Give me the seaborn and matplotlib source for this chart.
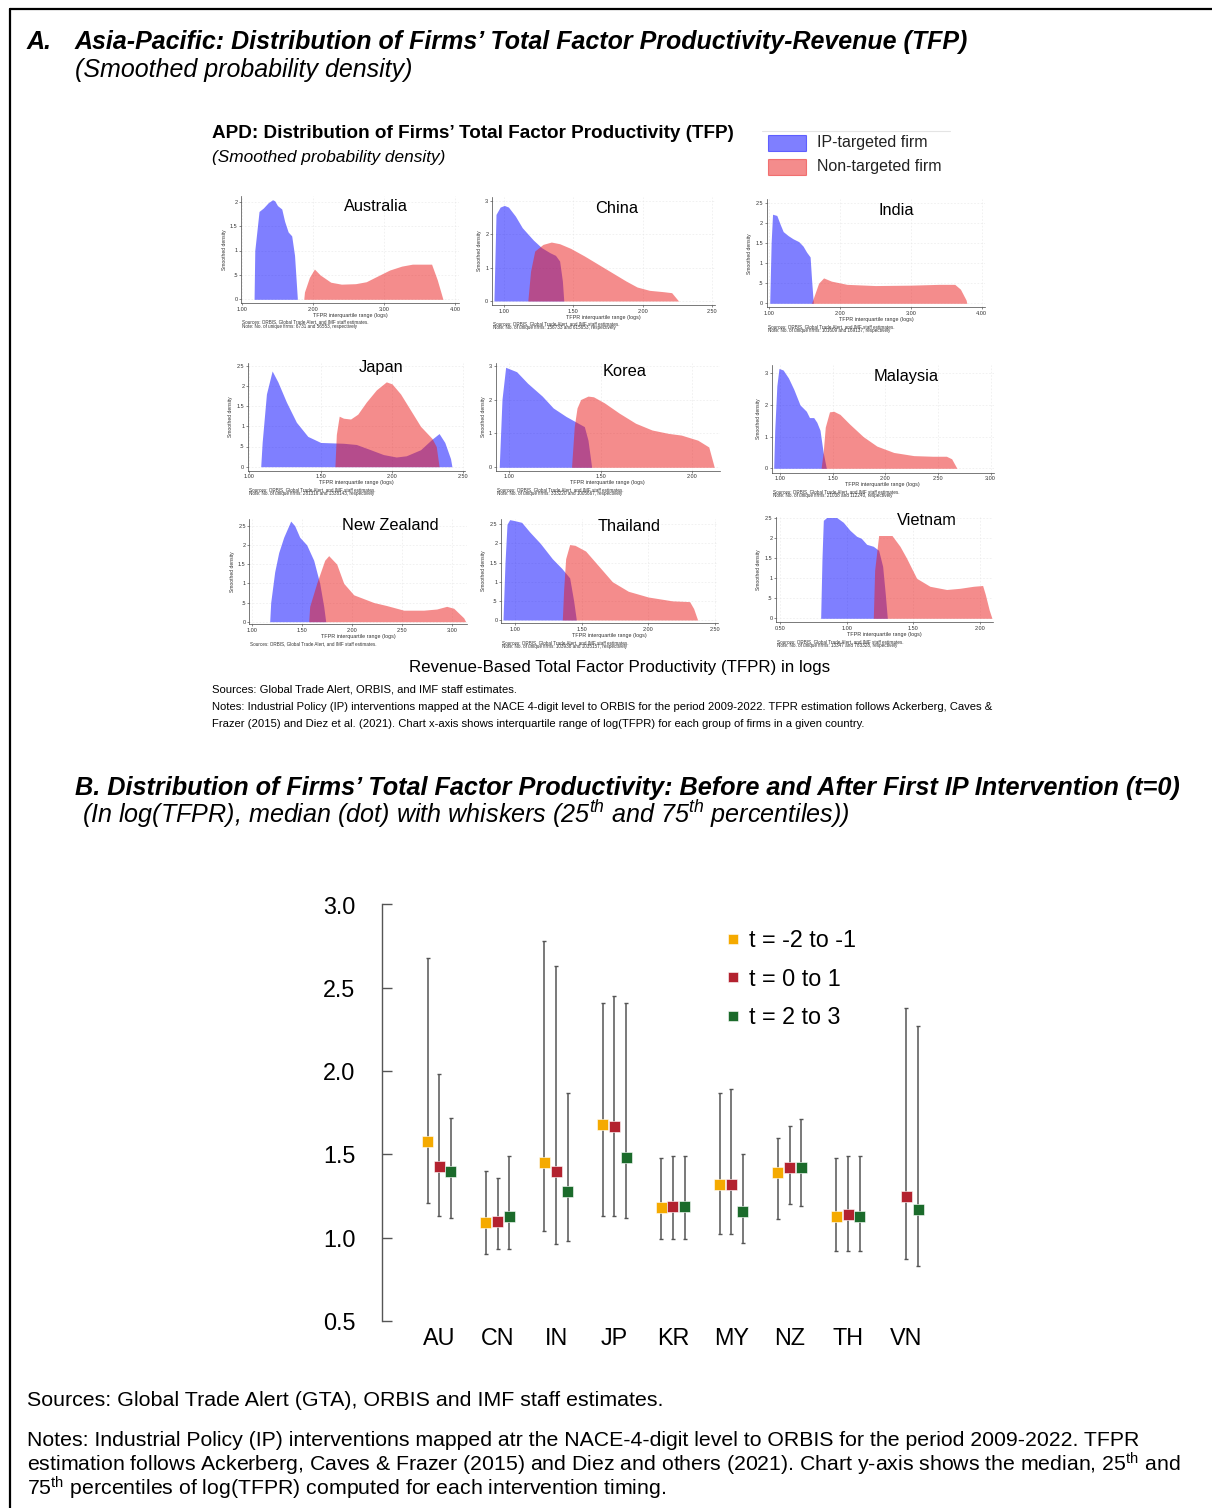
import numpy as np
import pandas as pd
import matplotlib
matplotlib.use("Agg")
import matplotlib.pyplot as plt
import seaborn as sns
from matplotlib import font_manager
from matplotlib.patches import Rectangle
from matplotlib.lines import Line2D

# ======================= DATA : Panel A (smoothed densities) =======================
countries_a = ["Australia", "China", "India", "Japan", "Korea", "Malaysia",
               "New Zealand", "Thailand", "Vietnam"]

au_ip_x = [1.17, 1.18, 1.24, 1.30, 1.37, 1.43, 1.46, 1.50, 1.56, 1.60, 1.65, 1.70, 1.74, 1.78]
au_ip_y = [0, 1.0, 1.8, 1.87, 1.98, 2.04, 2.02, 1.92, 1.85, 1.6, 1.38, 1.3, 0.9, 0]
au_non_x = [1.87, 1.88, 1.95, 2.02, 2.10, 2.25, 2.40, 2.60, 2.75, 2.90, 3.08, 3.25, 3.40, 3.67, 3.75, 3.83]
au_non_y = [0, 0.15, 0.45, 0.62, 0.5, 0.35, 0.31, 0.32, 0.36, 0.47, 0.6, 0.68, 0.72, 0.72, 0.4, 0]

cn_ip_x = [0.925, 0.94, 0.97, 1.00, 1.03, 1.08, 1.13, 1.21, 1.27, 1.33, 1.37, 1.40, 1.42, 1.43]
cn_ip_y = [0, 2.6, 2.82, 2.87, 2.82, 2.55, 2.2, 1.83, 1.6, 1.45, 1.37, 1.2, 0.6, 0]
cn_non_x = [1.17, 1.19, 1.22, 1.28, 1.34, 1.40, 1.48, 1.58, 1.68, 1.78, 1.88, 1.96, 2.05, 2.15, 2.21, 2.26]
cn_non_y = [0, 0.9, 1.5, 1.7, 1.77, 1.72, 1.58, 1.35, 1.1, 0.85, 0.6, 0.42, 0.32, 0.28, 0.25, 0]

in_ip_x = [1.01, 1.03, 1.05, 1.11, 1.16, 1.20, 1.27, 1.34, 1.42, 1.48, 1.53, 1.58, 1.60, 1.625]
in_ip_y = [0, 1.5, 2.21, 2.18, 1.95, 1.78, 1.68, 1.6, 1.53, 1.42, 1.27, 1.15, 0.6, 0]
in_non_x = [1.60, 1.63, 1.70, 1.77, 1.88, 2.10, 2.50, 3.00, 3.40, 3.62, 3.70, 3.78, 3.79]
in_non_y = [0, 0.15, 0.5, 0.63, 0.55, 0.47, 0.44, 0.45, 0.47, 0.47, 0.35, 0.08, 0]

jp_ip_x = [1.08, 1.09, 1.12, 1.16, 1.20, 1.26, 1.33, 1.41, 1.50, 1.66, 1.75, 1.85, 1.94, 2.03,
           2.10, 2.20, 2.28, 2.33, 2.37, 2.41, 2.42]
jp_ip_y = [0, 0.6, 1.8, 2.37, 2.1, 1.6, 1.1, 0.75, 0.6, 0.58, 0.55, 0.42, 0.3, 0.24,
           0.27, 0.42, 0.68, 0.82, 0.6, 0.2, 0]
jp_non_x = [1.60, 1.61, 1.63, 1.66, 1.71, 1.76, 1.82, 1.89, 1.96, 2.00, 2.06, 2.13, 2.20, 2.28, 2.31, 2.33]
jp_non_y = [0, 0.8, 1.25, 1.2, 1.18, 1.3, 1.6, 1.9, 2.1, 2.05, 1.8, 1.4, 1.0, 0.7, 0.5, 0]

kr_ip_x = [0.945, 0.96, 0.98, 1.04, 1.10, 1.18, 1.24, 1.31, 1.36, 1.41, 1.43, 1.45]
kr_ip_y = [0, 2.0, 2.95, 2.82, 2.48, 2.1, 1.75, 1.5, 1.35, 1.2, 0.8, 0]
kr_non_x = [1.34, 1.355, 1.37, 1.39, 1.43, 1.46, 1.52, 1.60, 1.69, 1.78, 1.87, 1.94, 2.03, 2.09, 2.12]
kr_non_y = [0, 1.2, 1.75, 2.0, 2.1, 2.08, 1.9, 1.6, 1.3, 1.1, 1.0, 0.95, 0.8, 0.6, 0]

my_ip_x = [0.94, 0.95, 0.97, 0.99, 1.03, 1.08, 1.13, 1.19, 1.25, 1.28, 1.32, 1.35, 1.38, 1.41, 1.44]
my_ip_y = [0, 1.2, 2.6, 3.15, 3.1, 2.85, 2.5, 2.0, 1.8, 1.6, 1.6, 1.45, 1.2, 0.5, 0]
my_non_x = [1.39, 1.41, 1.43, 1.47, 1.51, 1.57, 1.66, 1.79, 1.92, 2.08, 2.27, 2.45, 2.58, 2.63, 2.68]
my_non_y = [0, 0.5, 1.3, 1.78, 1.8, 1.7, 1.4, 1.0, 0.7, 0.5, 0.4, 0.38, 0.38, 0.3, 0]

nz_ip_x = [1.18, 1.19, 1.23, 1.27, 1.32, 1.39, 1.43, 1.48, 1.55, 1.62, 1.68, 1.72, 1.74]
nz_ip_y = [0, 0.5, 1.3, 1.8, 2.2, 2.62, 2.5, 2.2, 2.0, 1.6, 1.0, 0.4, 0]
nz_non_x = [1.57, 1.58, 1.65, 1.73, 1.77, 1.85, 1.92, 2.02, 2.22, 2.35, 2.52, 2.72, 2.85, 2.95, 3.02, 3.12, 3.14]
nz_non_y = [0, 0.4, 1.0, 1.6, 1.72, 1.5, 1.0, 0.7, 0.5, 0.42, 0.3, 0.3, 0.33, 0.4, 0.35, 0.1, 0]

th_ip_x = [0.91, 0.925, 0.94, 0.96, 0.99, 1.05, 1.11, 1.19, 1.28, 1.35, 1.41, 1.44, 1.46]
th_ip_y = [0, 1.5, 2.5, 2.62, 2.6, 2.55, 2.3, 2.0, 1.6, 1.35, 1.1, 0.5, 0]
th_non_x = [1.355, 1.365, 1.38, 1.41, 1.45, 1.53, 1.63, 1.73, 1.85, 2.0, 2.18, 2.31, 2.34, 2.37]
th_non_y = [0, 0.8, 1.6, 1.97, 1.95, 1.8, 1.4, 1.0, 0.75, 0.6, 0.5, 0.48, 0.3, 0]

vn_ip_x = [0.805, 0.815, 0.825, 0.85, 0.925, 0.975, 1.025, 1.075, 1.11, 1.15, 1.20, 1.24, 1.27, 1.29, 1.305]
vn_ip_y = [0, 1.5, 2.45, 2.52, 2.52, 2.4, 2.2, 2.05, 2.0, 1.85, 1.8, 1.7, 1.3, 0.6, 0]
vn_non_x = [1.20, 1.21, 1.24, 1.34, 1.40, 1.45, 1.525, 1.625, 1.75, 1.85, 1.95, 2.02, 2.04, 2.07, 2.09]
vn_non_y = [0, 1.2, 2.07, 2.07, 1.8, 1.5, 1.0, 0.8, 0.72, 0.75, 0.8, 0.82, 0.6, 0.2, 0]

# tick values / labels of the small panels
au_xticks = [1.0, 2.0, 3.0, 4.0]; au_yticks = [0, 0.5, 1, 1.5, 2]
cn_xticks = [1.0, 1.5, 2.0, 2.5]; cn_yticks = [0, 1, 2, 3]
in_xticks = [1.0, 2.0, 3.0, 4.0]; in_yticks = [0, 0.5, 1, 1.5, 2, 2.5]
jp_xticks = [1.0, 1.5, 2.0, 2.5]; jp_yticks = [0, 0.5, 1, 1.5, 2, 2.5]
kr_xticks = [1.0, 1.5, 2.0]; kr_yticks = [0, 1, 2, 3]
my_xticks = [1.0, 1.5, 2.0, 2.5, 3.0]; my_yticks = [0, 1, 2, 3]
nz_xticks = [1.0, 1.5, 2.0, 2.5, 3.0]; nz_yticks = [0, 0.5, 1, 1.5, 2, 2.5]
th_xticks = [1.0, 1.5, 2.0, 2.5]; th_yticks = [0, 0.5, 1, 1.5, 2, 2.5]
vn_xticks = [0.5, 1.0, 1.5, 2.0]; vn_yticks = [0, 0.5, 1, 1.5, 2, 2.5]

firm_notes = ["Note: No. of unique firms: 6731 and 56553, respectively",
              "Note: No. of unique firms: 156733 and 615653, respectively",
              "Note: No. of unique firms: 101609 and 169137, respectively",
              "Note: No. of unique firms: 281316 and 1338143, respectively",
              "Note: No. of unique firms: 333220 and 1005667, respectively",
              "Note: No. of unique firms: 21038 and 112240, respectively",
              "",
              "Note: No. of unique firms: 103938 and 1035157, respectively",
              "Note: No. of unique firms: 13347 and 783328, respectively"]

# ======================= DATA : Panel B (median and whiskers) =======================
codes_b = ["AU", "CN", "IN", "JP", "KR", "MY", "NZ", "TH", "VN"]
periods_b = ["t = -2 to -1", "t = 0 to 1", "t = 2 to 3"]

med_pre = [1.58, 1.09, 1.45, 1.68, 1.18, 1.32, 1.39, 1.13, np.nan]
p25_pre = [1.21, 0.90, 1.04, 1.13, 0.99, 1.02, 1.11, 0.92, np.nan]
p75_pre = [2.68, 1.40, 2.78, 2.41, 1.48, 1.87, 1.60, 1.48, np.nan]

med_t0 = [1.43, 1.10, 1.40, 1.67, 1.19, 1.32, 1.42, 1.14, 1.25]
p25_t0 = [1.13, 0.93, 0.96, 1.13, 0.99, 1.02, 1.20, 0.92, 0.87]
p75_t0 = [1.98, 1.36, 2.63, 2.45, 1.49, 1.89, 1.67, 1.49, 2.38]

med_post = [1.40, 1.13, 1.28, 1.48, 1.19, 1.16, 1.42, 1.13, 1.17]
p25_post = [1.12, 0.93, 0.98, 1.12, 0.99, 0.97, 1.19, 0.92, 0.83]
p75_post = [1.72, 1.49, 1.87, 2.41, 1.49, 1.50, 1.71, 1.49, 2.27]

# ======================= STYLE / LAYOUT =======================
sns.set_theme(style="white")
names = {f.name for f in font_manager.fontManager.ttflist}
HAS_NARROW = "Liberation Sans Narrow" in names
NARROW = "Liberation Sans Narrow" if HAS_NARROW else "Liberation Sans"
NS = 1.0 if HAS_NARROW else 0.84  # size compensation if no narrow face
plt.rcParams["font.family"] = ["Liberation Sans", "DejaVu Sans"]
plt.rcParams["text.color"] = "black"
plt.rcParams["axes.labelcolor"] = "black"
plt.rcParams["xtick.color"] = "black"
plt.rcParams["ytick.color"] = "black"
plt.rcParams["mathtext.fontset"] = "custom"
plt.rcParams["mathtext.rm"] = "Liberation Sans"
plt.rcParams["mathtext.it"] = "Liberation Sans:italic"
plt.rcParams["mathtext.bf"] = "Liberation Sans:bold"

W, H = 1212, 1508
fig = plt.figure(figsize=(W / 100, H / 100), dpi=100)
fig.patch.set_facecolor("white")


def fx(x):
    return x / W


def fy(y):
    return 1 - y / H


def ftext(x, y, s, **kw):
    return fig.text(fx(x), fy(y), s, **kw)


FAM_N = [NARROW, "Liberation Sans"]

# outer frame
fig.add_artist(Line2D([fx(10), 1.0], [fy(8.5), fy(8.5)], color="black", lw=1.6))
fig.add_artist(Line2D([fx(10), fx(10)], [fy(8.5), 0.0], color="black", lw=1.6))

# ---------------- Panel A titles ----------------
ftext(27, 49, "A.", fontsize=18, fontweight="bold", fontstyle="italic", family=FAM_N)
ftext(75, 49, "Asia-Pacific: Distribution of Firms’ Total Factor Productivity-Revenue (TFP)",
      fontsize=18, fontweight="bold", fontstyle="italic", family=FAM_N)
ftext(75, 77, "(Smoothed probability density)", fontsize=18, fontstyle="italic", family=FAM_N)

ftext(212, 138, "APD: Distribution of Firms’ Total Factor Productivity (TFP)", fontsize=13.6,
      fontweight="bold", family=FAM_N)
ftext(212, 162, "(Smoothed probability density)", fontsize=12.4, fontstyle="italic", family=FAM_N)

BLUE = (0.0, 0.0, 1.0)
RED = (0.92, 0.10, 0.10)
ALPHA = 0.5

# legend of panel A
fig.add_artist(Line2D([fx(762), fx(950)], [fy(131), fy(131)], color="#e4e4e4", lw=0.8))
for (y0, col, lab) in [(135, BLUE, "IP-targeted firm"), (159, RED, "Non-targeted firm")]:
    fig.add_artist(Rectangle((fx(768), fy(y0 + 16)), fx(38), 16 / H, transform=fig.transFigure,
                             facecolor=col, alpha=ALPHA, edgecolor=col, lw=0.8))
    ftext(817, y0 + 8, lab, fontsize=11.5, va="center", color="#222222")

# per-panel layout: (x_ref, px_ref, px_per_unit_x, py_zero, px_per_unit_y, xlim, ylim, title_x, title_base)
layout_a = {
    "Australia": (1.0, 242.0, 71.0, 299.3, 48.8, (0.99, 4.05), (-0.08, 2.12), 376, 211),
    "China": (1.0, 504.3, 138.3, 301.0, 33.3, (0.91, 2.52), (-0.12, 3.12), 617, 213),
    "India": (1.0, 769.0, 70.9, 303.3, 40.3, (0.968, 4.05), (-0.1, 2.58), 896, 215),
    "Japan": (1.0, 249.3, 142.7, 466.7, 40.4, (0.99, 2.51), (-0.1, 2.56), 381, 372),
    "Korea": (1.0, 509.3, 183.0, 467.3, 33.9, (0.926, 2.15), (-0.1, 3.07), 625, 376),
    "Malaysia": (1.0, 780.0, 105.3, 468.3, 31.7, (0.92, 3.03), (-0.14, 3.26), 906, 381),
    "New Zealand": (1.0, 251.7, 100.0, 621.7, 38.4, (0.976, 3.15), (-0.07, 2.67), 390, 530),
    "Thailand": (1.0, 515.0, 133.3, 620.0, 38.3, (0.895, 2.525), (-0.09, 2.65), 629, 531),
    "Vietnam": (0.5, 780.0, 133.3, 618.3, 40.0, (0.47, 2.10), (-0.1, 2.54), 927, 525),
}

curves_a = [(au_ip_x, au_ip_y, au_non_x, au_non_y, au_xticks, au_yticks),
            (cn_ip_x, cn_ip_y, cn_non_x, cn_non_y, cn_xticks, cn_yticks),
            (in_ip_x, in_ip_y, in_non_x, in_non_y, in_xticks, in_yticks),
            (jp_ip_x, jp_ip_y, jp_non_x, jp_non_y, jp_xticks, jp_yticks),
            (kr_ip_x, kr_ip_y, kr_non_x, kr_non_y, kr_xticks, kr_yticks),
            (my_ip_x, my_ip_y, my_non_x, my_non_y, my_xticks, my_yticks),
            (nz_ip_x, nz_ip_y, nz_non_x, nz_non_y, nz_xticks, nz_yticks),
            (th_ip_x, th_ip_y, th_non_x, th_non_y, th_xticks, th_yticks),
            (vn_ip_x, vn_ip_y, vn_non_x, vn_non_y, vn_xticks, vn_yticks)]


def ylab(v):
    s = ("%g" % v)
    return s[1:] if s.startswith("0.") else s


for name, (ipx, ipy, nx, ny, xt, yt), note in zip(countries_a, curves_a, firm_notes):
    xref, pxref, sx, py0, sy, xl, yl, tx, tb = layout_a[name]
    left = pxref + (xl[0] - xref) * sx
    right = pxref + (xl[1] - xref) * sx
    top = py0 - yl[1] * sy
    bottom = py0 - yl[0] * sy
    ax = fig.add_axes([fx(left), fy(bottom), (right - left) / W, (bottom - top) / H])
    ax.set_facecolor("white")
    df_ip = pd.DataFrame({"x": ipx, "y": ipy})
    df_non = pd.DataFrame({"x": nx, "y": ny})
    ax.fill_between(df_ip["x"], df_ip["y"], 0, color=BLUE, alpha=ALPHA, lw=0)
    ax.fill_between(df_non["x"], df_non["y"], 0, color=RED, alpha=ALPHA, lw=0)
    ax.set_xlim(*xl)
    ax.set_ylim(*yl)
    ax.set_xticks(xt)
    ax.set_xticklabels(["%.2f" % v for v in xt])
    ax.set_yticks(yt)
    ax.set_yticklabels([ylab(v) for v in yt])
    ax.grid(True, color="#e6e6e6", lw=0.4, ls=(0, (3, 3)))
    for s in ["top", "right"]:
        ax.spines[s].set_visible(False)
    for s in ["left", "bottom"]:
        ax.spines[s].set_color("#444444")
        ax.spines[s].set_linewidth(0.5)
    ax.tick_params(axis="both", length=1.6, width=0.4, pad=1.0, labelsize=4.0,
                   colors="#333333", direction="out", left=True, bottom=True)
    ax.set_xlabel("TFPR interquartile range (logs)", fontsize=3.9, labelpad=0.8, color="#333333")
    ax.set_ylabel("Smoothed density", fontsize=3.6, labelpad=2.5, color="#333333")
    ftext(tx, tb, name, fontsize=14 * NS, ha="center", va="baseline", family=FAM_N)
    ftext(left + 1, bottom + 20.5, "Sources: ORBIS, Global Trade Alert, and IMF staff estimates.",
          fontsize=3.3, color="#333333", va="baseline")
    if note:
        ftext(left + 1, bottom + 24.5, note, fontsize=3.3, color="#333333", va="baseline")

ftext(620, 672, "Revenue-Based Total Factor Productivity (TFPR) in logs", fontsize=14.5 * NS,
      ha="center", family=FAM_N)
ftext(212, 693, "Sources: Global Trade Alert, ORBIS, and IMF staff estimates.", fontsize=9.6 * NS,
      family=FAM_N)
ftext(212, 710, "Notes: Industrial Policy (IP) interventions mapped at the NACE 4-digit level to ORBIS for the "
      "period 2009-2022. TFPR estimation follows Ackerberg, Caves &", fontsize=9.6 * NS, family=FAM_N)
ftext(212, 727, "Frazer (2015) and Diez et al. (2021). Chart x-axis shows interquartile range of log(TFPR) "
      "for each group of firms in a given country.", fontsize=9.6 * NS, family=FAM_N)

# ---------------- Panel B ----------------
ftext(75, 795, "B. Distribution of Firms’ Total Factor Productivity: Before and After First IP Intervention (t=0)",
      fontsize=18.2, fontweight="bold", fontstyle="italic")
ftext(82, 823, r"(In log(TFPR), median (dot) with whiskers (25$^{th}$ and 75$^{th}$ percentiles))",
      fontsize=18.1, fontstyle="italic")

rows = []
for per, med, lo, hi in zip(periods_b, [med_pre, med_t0, med_post], [p25_pre, p25_t0, p25_post],
                            [p75_pre, p75_t0, p75_post]):
    for i, c in enumerate(codes_b):
        rows.append({"code": c, "idx": i, "period": per, "median": med[i], "p25": lo[i], "p75": hi[i]})
dfb = pd.DataFrame(rows).dropna()
dodge = {p: (k - 1) * 0.2 for k, p in enumerate(periods_b)}
dfb["xpos"] = dfb["idx"] + dfb["period"].map(dodge)

colors_b = {"t = -2 to -1": "#F5AA00", "t = 0 to 1": "#B3222F", "t = 2 to 3": "#1B6B2B"}

bl, br, bt, bb = 382, 966, 904.5, 1321
axb = fig.add_axes([fx(bl), fy(bb), (br - bl) / W, (bb - bt) / H])
axb.set_facecolor("white")
axb.errorbar(dfb["xpos"], dfb["median"],
             yerr=[dfb["median"] - dfb["p25"], dfb["p75"] - dfb["median"]],
             fmt="none", ecolor="#555555", elinewidth=1.1, capsize=1.7, capthick=1.0, zorder=1)
sns.scatterplot(data=dfb, x="xpos", y="median", hue="period", palette=colors_b, marker="s",
                s=62, edgecolor="white", linewidth=0.4, ax=axb, zorder=3, legend=False)
axb.set_xlim(-0.98, 9.02)
axb.set_ylim(0.5, 3.0)
axb.set_xticks(range(len(codes_b)))
axb.set_xticklabels(codes_b)
axb.set_yticks([0.5, 1.0, 1.5, 2.0, 2.5, 3.0])
axb.set_yticklabels(["0.5", "1.0", "1.5", "2.0", "2.5", "3.0"])
axb.set_xlabel("")
axb.set_ylabel("")
for s in ["top", "right", "bottom"]:
    axb.spines[s].set_visible(False)
axb.spines["left"].set_color("#555555")
axb.spines["left"].set_linewidth(1.0)
axb.tick_params(axis="y", direction="in", length=7, width=1.0, color="#555555", pad=19,
                labelsize=20 * NS, left=True)
axb.tick_params(axis="x", length=0, pad=4, labelsize=20 * NS)
for lab in axb.get_xticklabels() + axb.get_yticklabels():
    lab.set_family(FAM_N)
    lab.set_color("black")

handles = [Line2D([], [], marker="s", ls="", color=colors_b[p], markersize=6.5,
                  markeredgecolor="white", markeredgewidth=0.4) for p in periods_b]
leg = axb.legend(handles, periods_b, loc="upper left", bbox_to_anchor=(fx(713), fy(917)),
                 bbox_transform=fig.transFigure, frameon=False, handlelength=0.7, handletextpad=0.35,
                 labelspacing=0.68, borderpad=0, prop={"family": FAM_N, "size": 20 * NS})

ftext(27, 1406, "Sources: Global Trade Alert (GTA), ORBIS and IMF staff estimates.", fontsize=15.4)
ftext(27, 1446, "Notes: Industrial Policy (IP) interventions mapped atr the NACE-4-digit level to ORBIS for the "
      "period 2009-2022. TFPR", fontsize=15.3)
ftext(27, 1471, r"estimation follows Ackerberg, Caves & Frazer (2015) and Diez and others (2021). Chart y-axis "
      r"shows the median, 25$^{\mathrm{th}}$ and", fontsize=15.3)
ftext(27, 1496, r"75$^{\mathrm{th}}$ percentiles of log(TFPR) computed for each intervention timing.",
      fontsize=15.3)

fig.savefig("out.png", dpi=100, facecolor="white")
